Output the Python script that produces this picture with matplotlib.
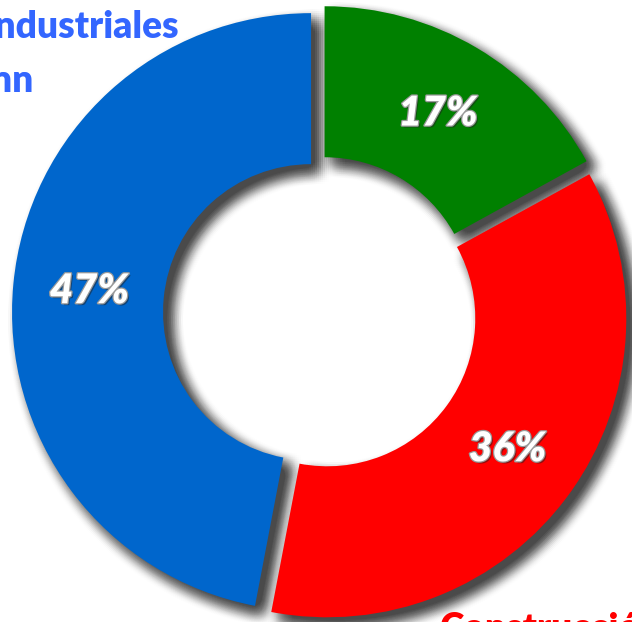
import matplotlib
matplotlib.use("Agg")
import matplotlib.pyplot as plt
import matplotlib.patheffects as pe
import numpy as np

# Data
categories = ["Otros", "Construcción", "Industriales"]
shares = [17, 36, 47]
colors = ["#008000", "#FF0000", "#0066CC"]

W, H = 632, 622
fig = plt.figure(figsize=(W / 72, H / 72), dpi=72)
ax = fig.add_axes([0, 0, 1, 1])

center = (320, 309)
radius = 299
ring = 151
explode = [9, 9, 9]

# blurred drop shadow built from many faint offset copies
shadow_fx = []
offs = np.arange(-12, 13, 2)
for dx in offs:
    for dy in offs:
        wgt = np.exp(-(dx * dx + dy * dy) / (2 * 6.0 ** 2))
        if wgt < 0.05:
            continue
        shadow_fx.append(pe.SimplePatchShadow(offset=(8 + dx, -8 + dy),
                                              shadow_rgbFace="#4a4a4a",
                                              alpha=0.035 * wgt))
ax.pie(shares, colors=["#808080"] * 3, startangle=90, counterclock=False,
       explode=explode, radius=radius, center=center,
       wedgeprops=dict(width=ring, linewidth=0, path_effects=shadow_fx))

wedges, texts, autotexts = ax.pie(
    shares, colors=colors, startangle=90, counterclock=False,
    explode=explode, radius=radius, center=center,
    wedgeprops=dict(width=ring, linewidth=0),
    autopct=lambda p: f"{p:.0f}%", pctdistance=0.745,
    textprops=dict(color="white", fontsize=41, fontweight="heavy",
                   fontstyle="italic", family=["Lato", "DejaVu Sans"]))
for t in autotexts:
    t.set_path_effects([
        pe.SimplePatchShadow(offset=(2, -2), shadow_rgbFace="#202020", alpha=0.5),
        pe.Stroke(linewidth=2.5, foreground="#9a9a9a"),
        pe.Normal()])

ax.set_xlim(0, W)
ax.set_ylim(0, H)
ax.set_aspect("auto")
ax.axis("off")

# category labels (partly outside the visible frame, as in the reference)
lab_font = dict(fontsize=37, fontweight="heavy", family=["Lato", "DejaVu Sans"],
                clip_on=False)
ax.text(179, H - 38, "Industriales", ha="right", va="baseline",
        color="#3366FF", **lab_font)
ax.text(33, H - 92, "nn", ha="right", va="baseline",
        color="#3366FF", **lab_font)
ax.text(440, H - 640, "Construcción", ha="left", va="baseline",
        color="#FF0000", **lab_font)

fig.savefig("out.png", dpi=72, facecolor="white")
